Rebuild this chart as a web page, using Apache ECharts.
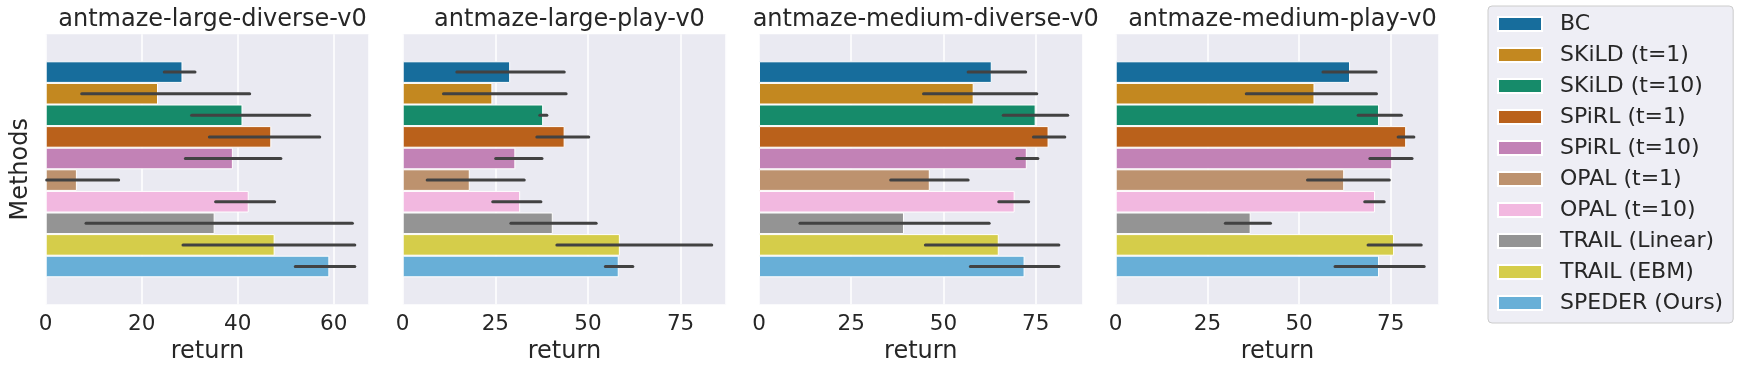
<!DOCTYPE html>
<html>
<head>
<meta charset="utf-8">
<script src="https://cdn.jsdelivr.net/npm/echarts@6/dist/echarts.min.js"></script>
<style>
  html, body { margin: 0; padding: 0; background: #fff; }
  #chart { width: 1738px; height: 370px; }
</style>
</head>
<body>
<div id="chart"></div>
<script>
const methods = ['BC', 'SKiLD (t=1)', 'SKiLD (t=10)', 'SPiRL (t=1)', 'SPiRL (t=10)',
  'OPAL (t=1)', 'OPAL (t=10)', 'TRAIL (Linear)', 'TRAIL (EBM)', 'SPEDER (Ours)'];
const envs = ['antmaze-large-diverse-v0', 'antmaze-large-play-v0',
  'antmaze-medium-diverse-v0', 'antmaze-medium-play-v0'];

const largeDiverseMean = [28.5, 23.4, 41.0, 47.0, 39.0, 6.5, 42.3, 35.2, 47.7, 59.1];
const largeDiverseLo = [24.7, 7.5, 30.4, 34.1, 29.1, 0.2, 35.4, 8.4, 28.6, 52.0];
const largeDiverseHi = [31.1, 42.5, 55.0, 57.1, 49.0, 15.2, 47.7, 63.9, 64.4, 64.4];

const largePlayMean = [29.0, 24.2, 37.9, 43.7, 30.4, 18.1, 31.7, 40.5, 58.6, 58.3];
const largePlayLo = [14.6, 11.0, 37.0, 36.2, 25.1, 6.6, 24.3, 29.2, 41.6, 54.7];
const largePlayHi = [43.6, 44.1, 38.9, 50.2, 37.6, 32.8, 37.3, 52.2, 83.4, 62.1];

const mediumDiverseMean = [63.1, 58.2, 75.0, 78.5, 72.6, 46.3, 69.3, 39.3, 65.0, 72.0];
const mediumDiverseLo = [56.7, 44.6, 66.2, 74.4, 69.9, 35.7, 65.0, 11.1, 45.1, 57.3];
const mediumDiverseHi = [72.3, 75.3, 83.7, 82.9, 75.6, 56.7, 73.1, 62.4, 81.3, 81.3];

const mediumPlayMean = [63.9, 54.2, 71.8, 79.2, 75.4, 62.3, 70.7, 36.8, 75.9, 71.8];
const mediumPlayLo = [56.5, 35.6, 66.1, 77.0, 69.3, 52.3, 67.9, 29.9, 68.8, 59.8];
const mediumPlayHi = [71.0, 71.1, 77.9, 81.3, 80.8, 74.6, 73.2, 42.2, 83.3, 84.1];

const xMax = [67.4, 87.3, 87.7, 88.2];
const xStep = [20, 25, 25, 25];

const colors = ['#176D9C', '#C38820', '#168B6A', '#BA611B', '#C282B6',
  '#BD926E', '#F2B8E0', '#949494', '#D5CD4A', '#68AFD7'];

const means = [largeDiverseMean, largePlayMean, mediumDiverseMean, mediumPlayMean];
const lows = [largeDiverseLo, largePlayLo, mediumDiverseLo, mediumPlayLo];
const highs = [largeDiverseHi, largePlayHi, mediumDiverseHi, mediumPlayHi];

const gridLeft = [45.7, 402.7, 759, 1115.7];
const gridWidth = 323.5;
const textColor = '#262626';
const font = 'DejaVu Sans';

function errorBars(params, api) {
  let idx = api.value(2);
  let start = api.coord([api.value(0), 0]);
  let end = api.coord([api.value(1), 0]);
  let band = api.size([0, 1])[1];
  let y = start[1] - band * 0.4 + band * 0.08 * (idx + 0.5);
  return {
    type: 'line',
    shape: { x1: start[0], y1: y, x2: end[0], y2: y },
    style: { stroke: '#424242', lineWidth: 3, lineCap: 'round' },
  };
}

let grids = [], xAxes = [], yAxes = [], titles = [], series = [];
envs.forEach((env, p) => {
  grids.push({
    left: gridLeft[p], top: 34.3, width: gridWidth, height: 270,
    show: true, backgroundColor: '#EAEAF2', borderWidth: 0,
  });
  titles.push({
    text: env,
    left: gridLeft[p] + gridWidth / 2,
    top: 3,
    textAlign: 'center',
    textStyle: { fontSize: 24, fontWeight: 'normal', color: textColor, fontFamily: font },
  });
  xAxes.push({
    type: 'value', gridIndex: p, min: 0, max: xMax[p], interval: xStep[p],
    name: 'return', nameLocation: 'middle', nameGap: 33,
    nameTextStyle: { fontSize: 24, color: textColor, fontFamily: font },
    axisLine: { show: false }, axisTick: { show: false },
    axisLabel: { fontSize: 21.5, color: textColor, fontFamily: font, margin: 9, showMaxLabel: false },
    splitLine: { show: true, lineStyle: { color: '#ffffff', width: 1.5 } },
  });
  yAxes.push({
    type: 'category', gridIndex: p, data: [''], inverse: true,
    name: p === 0 ? 'Methods' : '', nameLocation: 'middle', nameGap: 13,
    nameTextStyle: { fontSize: 24, color: textColor, fontFamily: font },
    axisLine: { show: false }, axisTick: { show: false }, axisLabel: { show: false },
    splitLine: { show: false },
  });
  methods.forEach((m, i) => {
    series.push({
      type: 'bar', name: m, xAxisIndex: p, yAxisIndex: p,
      data: [means[p][i]],
      barGap: '0%', barCategoryGap: '20%',
      itemStyle: { color: colors[i], borderColor: '#ffffff', borderWidth: 1 },
      emphasis: { disabled: true },
    });
  });
  series.push({
    type: 'custom', name: 'err' + p, xAxisIndex: p, yAxisIndex: p, z: 5,
    renderItem: errorBars,
    encode: { x: [0, 1], y: 3 },
    data: methods.map((m, i) => [lows[p][i], highs[p][i], i, 0]),
    silent: true,
  });
});

const chart = echarts.init(document.getElementById('chart'), null, { renderer: 'canvas' });
chart.setOption({
  backgroundColor: '#ffffff',
  animation: false,
  title: titles,
  grid: grids,
  xAxis: xAxes,
  yAxis: yAxes,
  legend: {
    data: methods,
    orient: 'vertical',
    left: 1488, top: 6,
    itemWidth: 44, itemHeight: 14, itemGap: 9,
    icon: 'rect',
    padding: [7, 10, 9, 9],
    backgroundColor: 'rgba(234,234,242,0.8)',
    borderColor: '#CCCCCC', borderWidth: 1, borderRadius: 4,
    textStyle: { fontSize: 22, color: textColor, fontFamily: font, lineHeight: 22, padding: [0, 0, 0, 13] },
  },
  series: series,
});
</script>
</body>
</html>
